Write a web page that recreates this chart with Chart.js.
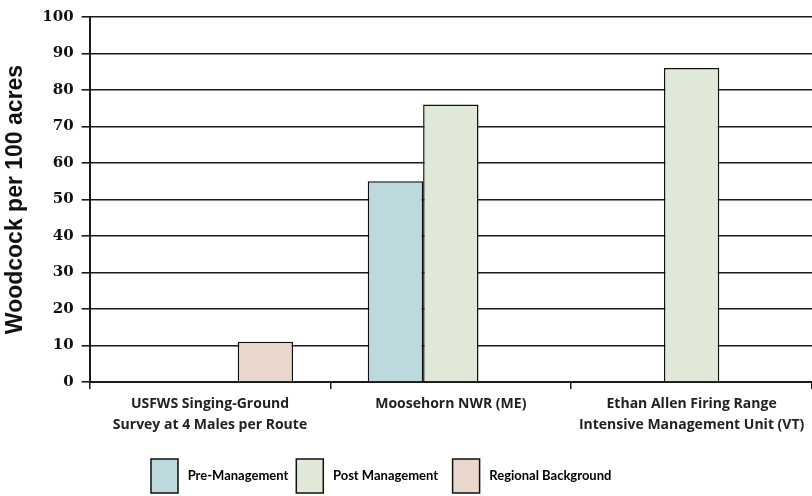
<!DOCTYPE html>
<html>
<head>
<meta charset="utf-8">
<script src="https://cdn.jsdelivr.net/npm/chart.js@4.4.1/dist/chart.umd.min.js"></script>
<style>
html,body{margin:0;padding:0;background:#fff;overflow:hidden;}
#wrap{width:812px;height:496px;position:relative;overflow:hidden;}
</style>
</head>
<body>
<div id="wrap"><canvas id="c" width="812" height="503"></canvas></div>
<script>
const categories = [
  ["USFWS Singing-Ground", "Survey at 4 Males per Route"],
  "Moosehorn NWR (ME)",
  ["Ethan Allen Firing Range", "Intensive Management Unit (VT)"]
];
const seriesNames = ["Pre-Management", "Post Management", "Regional Background"];
const preManagement = [null, 55, null];
const postManagement = [null, 76, 86];
const regionalBackground = [11, null, null];
const yTicks = [0, 10, 20, 30, 40, 50, 60, 70, 80, 90, 100];

const colors = ["#bdd9dd", "#e0e8d8", "#e9d7cd"];
const values = [preManagement, postManagement, regionalBackground];

const legendShift = {
  id: 'legendShift',
  afterLayout(chart) {
    if (chart.legend) chart.legend.left = 143;
  }
};

new Chart(document.getElementById('c'), {
  type: 'bar',
  data: {
    labels: categories,
    datasets: seriesNames.map((n, i) => ({
      label: n,
      data: values[i],
      backgroundColor: colors[i],
      borderColor: '#111',
      borderWidth: 1.5,
      categoryPercentage: 0.69,
      barPercentage: 1.0,
      skipNull: false
    }))
  },
  plugins: [legendShift],
  options: {
    responsive: false,
    animation: false,
    layout: { padding: { top: 14, right: 0, left: 3, bottom: 0 } },
    plugins: {
      tooltip: { enabled: false },
      legend: {
        position: 'bottom',
        align: 'start',
        labels: {
          boxWidth: 27,
          boxHeight: 34,
          padding: 8,
          color: '#222',
          font: { family: 'Lato', weight: 'bold', size: 13 },
          generateLabels: (chart) => seriesNames.map((n, i) => ({
            text: ' ' + n + (i === 1 ? '\u2002' : ''),
            fillStyle: colors[i],
            strokeStyle: '#111',
            lineWidth: 1.5,
            datasetIndex: i
          }))
        }
      }
    },
    scales: {
      x: {
        afterFit: (scale) => { scale.height += 10; },
        grid: { display: true, drawOnChartArea: false, color: '#1a1a1a', lineWidth: 1.5, tickLength: 7, offset: true },
        border: { display: true, color: '#1a1a1a', width: 2 },
        ticks: {
          color: '#222',
          maxRotation: 0,
          autoSkip: false,
          padding: 5,
          font: { family: 'Open Sans', weight: 'bold', size: 14, lineHeight: 1.5 }
        }
      },
      y: {
        min: 0,
        max: 100,
        afterBuildTicks: (axis) => { axis.ticks = yTicks.map(v => ({ value: v })); },
        grid: { color: '#1a1a1a', lineWidth: 1.6, tickLength: 8 },
        border: { display: true, color: '#1a1a1a', width: 2 },
        ticks: {
          color: '#111',
          padding: 8,
          font: { family: 'DejaVu Serif', weight: 'bold', size: 15 }
        },
        title: {
          display: true,
          text: 'Woodcock per 100 acres',
          color: '#111',
          padding: { top: 0, bottom: 6 },
          font: { family: 'Liberation Sans', weight: 'bold', size: 23, lineHeight: 1.1 }
        }
      }
    }
  }
});
</script>
</body>
</html>
